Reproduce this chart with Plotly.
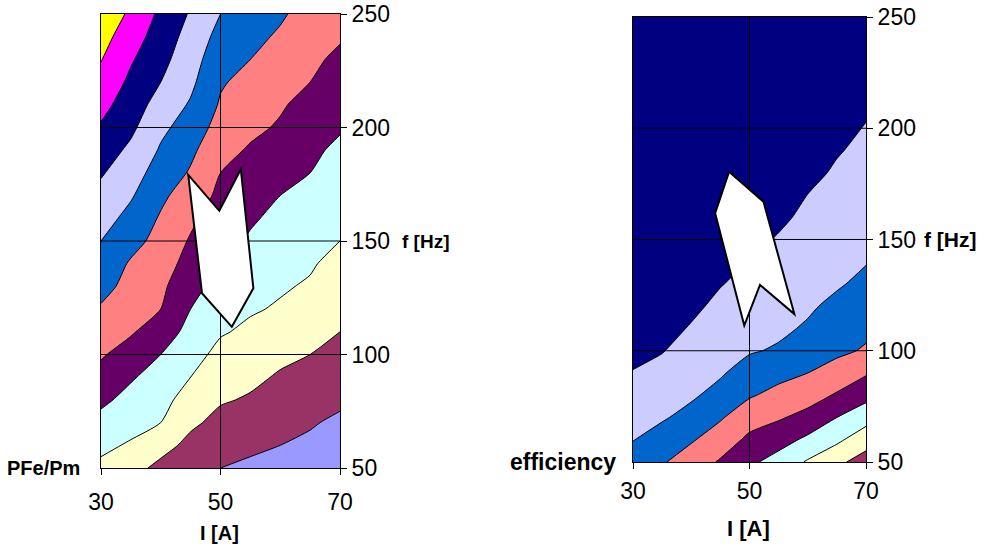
import plotly.graph_objects as go

# Grid of the contour data (current I [A] and frequency f [Hz])
I_vals = [30, 35, 40, 45, 50, 55, 60, 65, 70]
f_vals = [50, 60, 70, 80, 90, 100, 110, 120, 130, 140, 150,
          160, 170, 180, 190, 200, 210, 220, 230, 240, 250]

# PFe/Pm level index (rows = f, columns = I)
z_pfe = [
    [2.8, 2.4, 1.7, 1.2, 1.0, 0.8, 0.6, 0.4, 0.0],
    [3.2, 2.9, 2.4, 1.7, 1.4, 1.2, 1.0, 0.8, 0.4],
    [3.7, 3.3, 3.0, 2.2, 1.7, 1.5, 1.3, 1.1, 0.8],
    [4.2, 3.7, 3.3, 2.6, 2.1, 1.9, 1.6, 1.4, 1.2],
    [4.7, 4.1, 3.6, 3.0, 2.4, 2.2, 1.9, 1.7, 1.4],
    [5.1, 4.6, 4.0, 3.4, 2.7, 2.5, 2.2, 2.0, 1.7],
    [5.5, 5.1, 4.5, 3.7, 3.1, 2.8, 2.6, 2.3, 2.0],
    [5.9, 5.4, 5.0, 4.0, 3.4, 3.1, 2.9, 2.6, 2.2],
    [6.3, 5.7, 5.2, 4.3, 3.7, 3.4, 3.1, 2.9, 2.5],
    [6.6, 5.9, 5.5, 4.6, 4.1, 3.6, 3.4, 3.1, 2.7],
    [7.0, 6.3, 5.7, 4.9, 4.3, 3.9, 3.6, 3.3, 3.0],
    [7.4, 6.7, 5.9, 5.2, 4.5, 4.1, 3.8, 3.5, 3.2],
    [7.7, 7.1, 6.2, 5.5, 4.8, 4.4, 4.0, 3.8, 3.4],
    [8.1, 7.4, 6.6, 5.9, 5.0, 4.7, 4.3, 4.0, 3.6],
    [8.5, 7.8, 6.9, 6.2, 5.3, 4.9, 4.6, 4.2, 3.8],
    [8.9, 8.2, 7.2, 6.6, 5.6, 5.2, 4.9, 4.5, 4.1],
    [9.3, 8.5, 7.6, 6.9, 5.9, 5.5, 5.1, 4.7, 4.3],
    [9.7, 8.8, 8.0, 7.2, 6.1, 5.7, 5.4, 5.0, 4.6],
    [10.04, 9.1, 8.3, 7.4, 6.4, 6.0, 5.6, 5.2, 4.8],
    [10.4, 9.4, 8.6, 7.6, 6.7, 6.2, 5.9, 5.5, 5.1],
    [10.8, 9.8, 8.8, 7.9, 7.0, 6.4, 6.1, 5.7, 5.4],
]

# efficiency level index (rows = f, columns = I)
z_eff = [
    [6.6, 6.1, 5.5, 4.9, 4.2, 3.6, 2.9, 2.2, 1.6],
    [7.03, 6.6, 6.1, 5.5, 4.8, 4.4, 3.8, 3.2, 2.4],
    [7.34, 7.10, 6.7, 6.1, 5.4, 5.1, 4.7, 4.0, 3.4],
    [7.65, 7.42, 7.13, 6.7, 6.1, 5.7, 5.4, 4.9, 4.3],
    [7.96, 7.73, 7.40, 7.10, 6.6, 6.3, 6.0, 5.6, 5.1],
    [8.22, 8.04, 7.66, 7.33, 7.08, 6.9, 6.5, 6.2, 5.9],
    [8.47, 8.29, 7.93, 7.57, 7.30, 7.16, 6.9, 6.5, 6.2],
    [8.52, 8.50, 8.18, 7.80, 7.52, 7.35, 7.12, 6.8, 6.5],
    [8.55, 8.53, 8.43, 8.04, 7.75, 7.54, 7.30, 7.09, 6.8],
    [8.57, 8.55, 8.52, 8.29, 7.97, 7.74, 7.47, 7.25, 7.04],
    [8.60, 8.58, 8.54, 8.50, 8.22, 7.93, 7.64, 7.41, 7.19],
    [8.62, 8.60, 8.57, 8.53, 8.47, 8.16, 7.82, 7.57, 7.34],
    [8.65, 8.63, 8.59, 8.55, 8.52, 8.41, 7.99, 7.73, 7.49],
    [8.67, 8.65, 8.62, 8.58, 8.55, 8.52, 8.24, 7.88, 7.64],
    [8.70, 8.68, 8.64, 8.60, 8.57, 8.54, 8.49, 8.07, 7.79],
    [8.72, 8.70, 8.67, 8.63, 8.60, 8.57, 8.52, 8.32, 7.94],
    [8.75, 8.73, 8.69, 8.65, 8.62, 8.59, 8.55, 8.51, 8.16],
    [8.77, 8.75, 8.72, 8.68, 8.65, 8.62, 8.57, 8.53, 8.41],
    [8.80, 8.78, 8.74, 8.70, 8.67, 8.64, 8.60, 8.56, 8.52],
    [8.82, 8.80, 8.77, 8.73, 8.70, 8.67, 8.62, 8.58, 8.54],
    [8.85, 8.83, 8.79, 8.75, 8.72, 8.69, 8.65, 8.61, 8.57],
]

I_ticks = [30, 50, 70]
f_ticks = [50, 100, 150, 200, 250]
I_grid = [50]
f_grid = [100, 150, 200]

# white arrow outlines (I, f)
arrow_left_I = [44.6, 49.8, 53.4, 55.5, 51.9, 46.9]
arrow_left_f = [179.1, 163.3, 181.6, 129.2, 112.2, 127.0]
arrow_right_I = [46.5, 52.4, 57.7, 51.8, 49.1, 44.1]
arrow_right_f = [180.5, 167.0, 116.5, 129.6, 111.3, 161.8]

band_colors = ["#9999FF", "#993366", "#FFFFCC", "#CCFFFF", "#660066", "#FF8080",
               "#0066CC", "#CCCCFF", "#000080", "#FF00FF", "#FFFF00"]
colorscale = [[i / (len(band_colors) - 1), c] for i, c in enumerate(band_colors)]

W, H = 986, 551
def PX(px):
    return px / W
def PY(py):
    return (H - py) / H

FONT = "Arial, Liberation Sans, sans-serif"

fig = go.Figure()
for z, xa, ya in [(z_pfe, "x", "y"), (z_eff, "x2", "y2")]:
    fig.add_trace(go.Contour(
        x=I_vals, y=f_vals, z=z, xaxis=xa, yaxis=ya,
        autocontour=False,
        contours=dict(start=1, end=10, size=1, coloring="fill", showlines=True),
        colorscale=colorscale, showscale=False,
        line=dict(color="black", width=1, smoothing=0.6),
        hoverinfo="skip"))

def xax(dom, anchor, standoff):
    return dict(domain=dom, range=[30, 70], tickvals=I_ticks, ticktext=[str(v) for v in I_ticks],
                ticks="outside", ticklen=6, tickcolor="black", showline=True, mirror=True,
                linecolor="black", linewidth=1, showgrid=False, zeroline=False, anchor=anchor,
                automargin=False, ticklabelstandoff=standoff, ticklabeloverflow="allow",
                tickfont=dict(family=FONT, size=23, color="black"), fixedrange=True)

def yax(dom, anchor):
    return dict(domain=dom, range=[50, 250], tickvals=f_ticks, ticktext=[str(v) for v in f_ticks],
                side="right", ticks="outside", ticklen=6, tickcolor="black", showline=True,
                mirror=True, linecolor="black", linewidth=1, showgrid=False, zeroline=False,
                anchor=anchor, automargin=False, ticklabeloverflow="allow",
                tickfont=dict(family=FONT, size=23, color="black"), fixedrange=True)

fig.update_layout(
    width=W, height=H, margin=dict(l=0, r=0, t=0, b=0, autoexpand=False),
    paper_bgcolor="white", plot_bgcolor="white", showlegend=False,
    xaxis=xax([PX(101), PX(340)], "y", 7),
    yaxis=yax([PY(468), PY(14)], "x"),
    xaxis2=xax([PX(633), PX(866)], "y2", 2),
    yaxis2=yax([PY(462), PY(17)], "x2"),
)

shapes = []
for xr, yr in [("x", "y"), ("x2", "y2")]:
    for v in I_grid:
        shapes.append(dict(type="line", xref=xr, yref=yr, x0=v, x1=v, y0=f_ticks[0], y1=f_ticks[-1],
                           line=dict(color="black", width=1), layer="above"))
    for v in f_grid:
        shapes.append(dict(type="line", xref=xr, yref=yr, x0=I_ticks[0], x1=I_ticks[-1], y0=v, y1=v,
                           line=dict(color="black", width=1), layer="above"))

def poly(xs, ys):
    return "M " + " L ".join(f"{a},{b}" for a, b in zip(xs, ys)) + " Z"

shapes.append(dict(type="path", xref="x", yref="y", path=poly(arrow_left_I, arrow_left_f),
                   fillcolor="white", line=dict(color="black", width=2), layer="above"))
shapes.append(dict(type="path", xref="x2", yref="y2", path=poly(arrow_right_I, arrow_right_f),
                   fillcolor="white", line=dict(color="black", width=2), layer="above"))
fig.update_layout(shapes=shapes)

ann = []
def label(text, x, y, size, xanchor="center", yref="paper"):
    ann.append(dict(text=text, x=x, y=y, xref="paper", yref=yref, xanchor=xanchor, yanchor="middle",
                    showarrow=False, font=dict(family=FONT, size=size, color="black")))

label("<b>f [Hz]</b>", PX(400), 150, 19, "left", "y")
label("<b>f [Hz]</b>", PX(922), 150, 21, "left", "y2")
label("<b>I [A]</b>", PX(219), PY(533), 20)
label("<b>I [A]</b>", PX(748), PY(528), 22)
label("<b>PFe/Pm</b>", PX(82), 50, 20, "right", "y")
label("<b>efficiency</b>", PX(618), 50, 23, "right", "y2")
fig.update_layout(annotations=ann)

fig.write_html("out.html", config={"displayModeBar": False},
               post_script="document.body.style.margin='0';document.body.style.overflow='hidden';")
